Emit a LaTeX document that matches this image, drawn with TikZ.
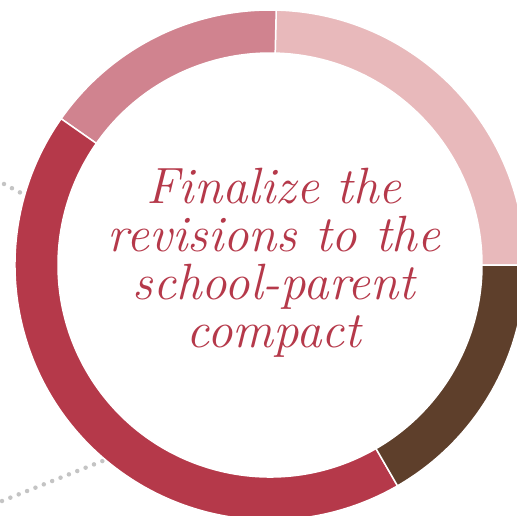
\documentclass[tikz,border=0pt]{standalone}
\usepackage{tikz}
\usepackage{xcolor}

\definecolor{ringpink}{RGB}{232,185,187}
\definecolor{ringmauve}{RGB}{208,131,143}
\definecolor{ringred}{RGB}{181,57,74}
\definecolor{ringbrown}{RGB}{94,63,43}
\definecolor{dotgray}{RGB}{196,196,196}

\begin{document}
\begin{tikzpicture}[x=1pt,y=1pt,yscale=-1,xscale=1]
        \useasboundingbox (0,0) rectangle (517,516);

        %Dotted Lines (behind the ring)
        \coordinate (dotA) at (4,184);
        \coordinate (ringA) at (40,203);
        \coordinate (dotB) at (2,501);
        \coordinate (ringB) at (110,458);
        \draw [dotgray,line width=4.5pt,line cap=round,dash pattern=on 0pt off 9pt] (dotA) -- (ringA) ;
        \draw [dotgray,line width=4.5pt,line cap=round,dash pattern=on 0pt off 9pt] (dotB) -- (ringB) ;

        \begin{scope}[shift={(270,265)}]
        \coordinate (center) at (0,0);
        %Shape: Arc [light pink]
        \draw [white,line width=1.5pt][fill=ringpink] (0:255) arc[start angle=0,end angle=-88.6,radius=255] -- (-88.6:212) arc[start angle=-88.6,end angle=0,radius=212] -- cycle ;
        %Shape: Arc [mauve]
        \draw [white,line width=1.5pt][fill=ringmauve] (-88.6:255) arc[start angle=-88.6,end angle=-145,radius=255] -- (-145:212) arc[start angle=-145,end angle=-88.6,radius=212] -- cycle ;
        %Shape: Arc [red]
        \draw [white,line width=1.5pt][fill=ringred] (-145:255) arc[start angle=-145,end angle=-300,radius=255] -- (-300:212) arc[start angle=-300,end angle=-145,radius=212] -- cycle ;
        %Shape: Arc [brown]
        \draw [white,line width=1.5pt][fill=ringbrown] (-300:255) arc[start angle=-300,end angle=-360,radius=255] -- (-360:212) arc[start angle=-360,end angle=-300,radius=212] -- cycle ;
        \end{scope}

        % Text Node
        \node (title) [anchor=north,inner sep=0pt,align=center,text=ringred,font=\fontsize{51}{48}\selectfont\itshape] at (274,168)
            {Finalize the\\revisions to the\\school-parent\\compact};

\end{tikzpicture}
\end{document}
